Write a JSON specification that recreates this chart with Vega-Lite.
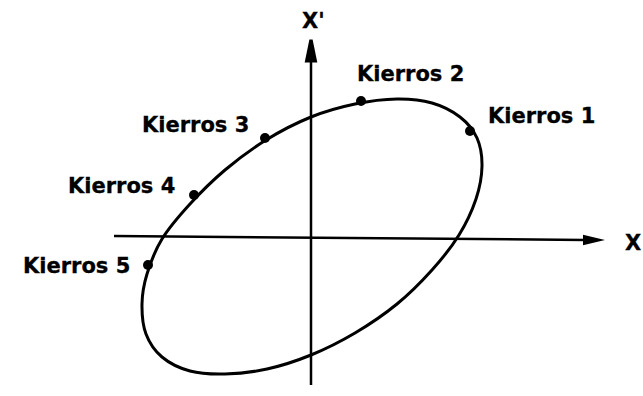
{
  "$schema": "https://vega.github.io/schema/vega-lite/v6.json",
  "width": 643,
  "height": 396,
  "autosize": {"type": "fit", "contains": "padding"},
  "padding": 0,
  "background": "white",
  "config": {"view": {"stroke": null}},
  "datasets": {
    "ellipse": [
      {"i": 0, "x": 171, "y": 71},
      {"i": 1, "x": 166, "y": 99},
      {"i": 2, "x": 149, "y": 120},
      {"i": 3, "x": 121, "y": 134},
      {"i": 4, "x": 86, "y": 138},
      {"i": 5, "x": 44, "y": 133},
      {"i": 6, "x": 0, "y": 120},
      {"i": 7, "x": -45, "y": 97},
      {"i": 8, "x": -86, "y": 67},
      {"i": 9, "x": -121, "y": 33},
      {"i": 10, "x": -149, "y": -2},
      {"i": 11, "x": -164, "y": -37},
      {"i": 12, "x": -169, "y": -67},
      {"i": 13, "x": -165, "y": -97},
      {"i": 14, "x": -149, "y": -120},
      {"i": 15, "x": -121, "y": -134},
      {"i": 16, "x": -86, "y": -137},
      {"i": 17, "x": -44, "y": -132},
      {"i": 18, "x": 0, "y": -118},
      {"i": 19, "x": 44, "y": -96},
      {"i": 20, "x": 86, "y": -67},
      {"i": 21, "x": 121, "y": -33},
      {"i": 22, "x": 148, "y": 2},
      {"i": 23, "x": 165, "y": 38}
    ],
    "axes": [
      {"x": -197, "y": 1, "x2": 274, "y2": -3},
      {"x": 0, "y": -148, "x2": 0, "y2": 178}
    ],
    "arrowX": [{"x": 283, "y": -3}],
    "arrowY": [{"x": 0, "y": 186}],
    "points": [
      {"name": "Kierros 1", "x": 159, "y": 106},
      {"name": "Kierros 2", "x": 50, "y": 136},
      {"name": "Kierros 3", "x": -46, "y": 99},
      {"name": "Kierros 4", "x": -117, "y": 42},
      {"name": "Kierros 5", "x": -163, "y": -28}
    ],
    "labels": [
      {"text": "Kierros 1", "x": 177, "y": 114},
      {"text": "Kierros 2", "x": 46, "y": 156},
      {"text": "Kierros 3", "x": -169, "y": 105},
      {"text": "Kierros 4", "x": -243, "y": 44},
      {"text": "Kierros 5", "x": -288, "y": -36},
      {"text": "X", "x": 314, "y": -13},
      {"text": "X'", "x": -9, "y": 209}
    ]
  },
  "layer": [
    {
      "data": {"name": "axes"},
      "mark": {"type": "rule", "color": "black", "strokeWidth": 2.5},
      "encoding": {
        "x": {"field": "x", "type": "quantitative", "scale": {"domain": [-311, 332], "nice": false, "zero": false}, "axis": null},
        "y": {"field": "y", "type": "quantitative", "scale": {"domain": [-159, 237], "nice": false, "zero": false}, "axis": null},
        "x2": {"field": "x2"},
        "y2": {"field": "y2"}
      }
    },
    {
      "data": {"name": "ellipse"},
      "mark": {"type": "line", "color": "black", "strokeWidth": 3, "interpolate": "cardinal-closed"},
      "encoding": {
        "x": {"field": "x", "type": "quantitative", "scale": {"domain": [-311, 332], "nice": false, "zero": false}, "axis": null},
        "y": {"field": "y", "type": "quantitative", "scale": {"domain": [-159, 237], "nice": false, "zero": false}, "axis": null},
        "order": {"field": "i", "type": "quantitative"}
      }
    },
    {
      "data": {"name": "arrowX"},
      "mark": {"type": "point", "filled": true, "color": "black", "opacity": 1, "size": 484, "shape": "M1,0L-1,-0.48L-1,0.48Z"},
      "encoding": {
        "x": {"field": "x", "type": "quantitative", "scale": {"domain": [-311, 332], "nice": false, "zero": false}, "axis": null},
        "y": {"field": "y", "type": "quantitative", "scale": {"domain": [-159, 237], "nice": false, "zero": false}, "axis": null}
      }
    },
    {
      "data": {"name": "arrowY"},
      "mark": {"type": "point", "filled": true, "color": "black", "opacity": 1, "size": 529, "shape": "M-0.14,-1L0.14,-1L0.55,1L-0.55,1Z"},
      "encoding": {
        "x": {"field": "x", "type": "quantitative", "scale": {"domain": [-311, 332], "nice": false, "zero": false}, "axis": null},
        "y": {"field": "y", "type": "quantitative", "scale": {"domain": [-159, 237], "nice": false, "zero": false}, "axis": null}
      }
    },
    {
      "data": {"name": "points"},
      "mark": {"type": "circle", "color": "black", "opacity": 1, "size": 100},
      "encoding": {
        "x": {"field": "x", "type": "quantitative", "scale": {"domain": [-311, 332], "nice": false, "zero": false}, "axis": null},
        "y": {"field": "y", "type": "quantitative", "scale": {"domain": [-159, 237], "nice": false, "zero": false}, "axis": null}
      }
    },
    {
      "data": {"name": "labels"},
      "mark": {"type": "text", "font": "DejaVu Sans", "fontWeight": "bold", "fontSize": 21, "align": "left", "baseline": "alphabetic", "color": "black", "stroke": "black", "strokeWidth": 0.3},
      "encoding": {
        "x": {"field": "x", "type": "quantitative", "scale": {"domain": [-311, 332], "nice": false, "zero": false}, "axis": null},
        "y": {"field": "y", "type": "quantitative", "scale": {"domain": [-159, 237], "nice": false, "zero": false}, "axis": null},
        "text": {"field": "text"}
      }
    }
  ]
}
